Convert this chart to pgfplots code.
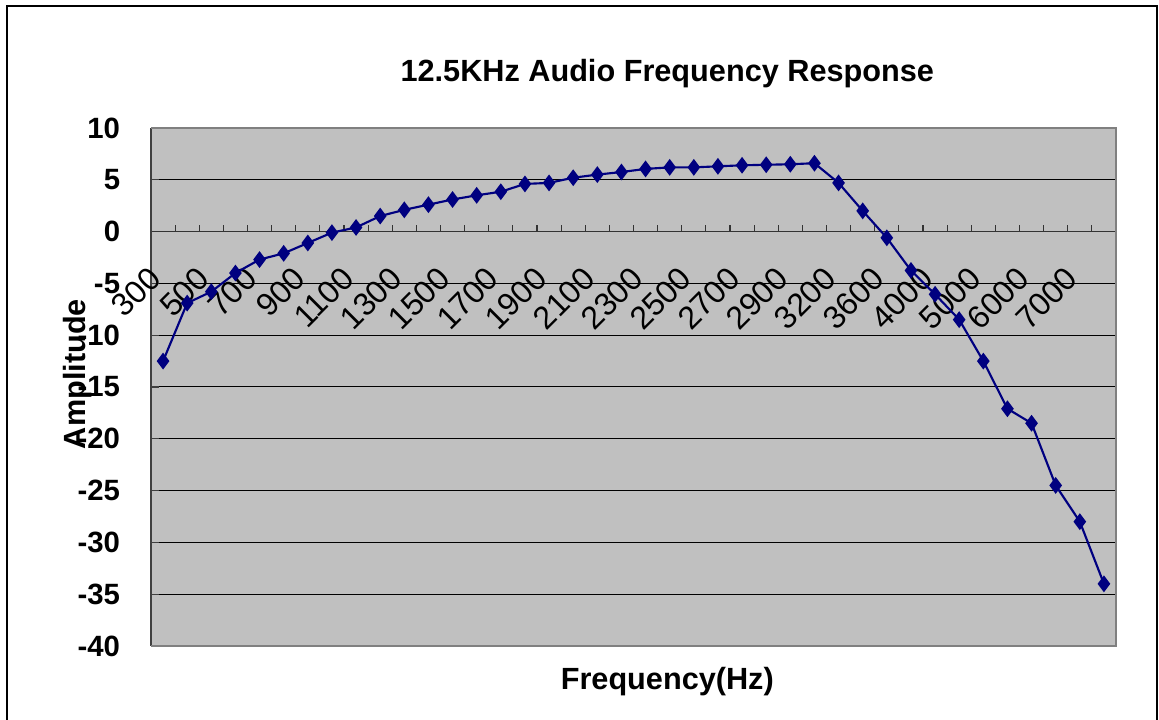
\documentclass[border=0pt]{standalone}
\usepackage{pgfplots}
\pgfplotsset{compat=1.18}
\usepackage{fontspec}
\setmainfont{Liberation Sans}
\definecolor{plotbg}{HTML}{C0C0C0}
\definecolor{navy}{HTML}{000080}
\definecolor{bordergray}{HTML}{808080}
\begin{document}
\begin{tikzpicture}
\path[use as bounding box] (0,0) rectangle (869.25pt,540pt);
\draw[line width=0.9pt] (5.25pt,-2pt) -- (5.25pt,535.5pt) -- (867.75pt,535.5pt) -- (867.75pt,-2pt);
\begin{axis}[
  at={(113.25pt,55.5pt)}, anchor=south west,
  width=723.75pt, height=388.5pt, scale only axis,
  xmin=-0.5, xmax=39.5, ymin=-40, ymax=10,
  axis x line=middle, axis y line=left,
  x axis line style={-, draw=black!80, line width=0.9pt},
  y axis line style={-, draw=black!75, line width=0.9pt},
  axis background/.style={fill=plotbg},
  xtick={0,2,...,38},
  xticklabels={300,500,700,900,1100,1300,1500,1700,1900,2100,2300,2500,2700,2900,3200,3600,4000,5000,6000,7000},
  major x tick style={draw=none},
  minor xtick={0.5,1.5,...,39.5},
  minor x tick style={draw=black!80, line width=0.8pt},
  minor tick length=5pt,
  xtick align=inside,
  ytick={-40,-35,...,10},
  ytick align=inside,
  major tick length=6pt,
  y tick style={draw=black!75, line width=0.8pt},
  ymajorgrids, major grid style={black, line width=0.75pt},
  /pgf/number format/assume math mode=true,
  x tick label style={font=\fontsize{24}{24}\selectfont, inner sep=0pt, anchor=east, xshift=-6pt, yshift=-31pt, rotate=45},
  y tick label style={font=\fontsize{22}{22}\selectfont\bfseries, inner sep=0pt, xshift=-23pt},
  title={12.5KHz Audio Frequency Response},
  title style={font=\fontsize{23}{23}\selectfont\bfseries, at={(axis description cs:0.535,1.089)}, anchor=center},
  xlabel={Frequency(Hz)},
  xlabel style={font=\fontsize{23}{23}\selectfont\bfseries, at={(axis description cs:0.535,-0.068)}, anchor=center},
  ylabel={Amplitude},
  ylabel style={font=\fontsize{23}{23}\selectfont\bfseries, at={(axis description cs:-0.0765,0.525)}, anchor=center, rotate=0},
  clip=false,
]
\draw[bordergray, line width=1.5pt] (rel axis cs:0,0) -- (rel axis cs:1,0) -- (rel axis cs:1,1) -- (rel axis cs:0,1);
\addplot[navy, line width=1.6pt, mark=diamond*, mark size=5pt, mark options={fill=navy, draw=navy}] table {
x y
0 -12.5
1 -6.9
2 -5.8
3 -4.0
4 -2.7
5 -2.1
6 -1.1
7 -0.1
8 0.4
9 1.5
10 2.1
11 2.6
12 3.1
13 3.5
14 3.85
15 4.6
16 4.7
17 5.2
18 5.5
19 5.75
20 6.05
21 6.2
22 6.2
23 6.3
24 6.4
25 6.45
26 6.5
27 6.6
28 4.7
29 2.0
30 -0.6
31 -3.75
32 -6.05
33 -8.5
34 -12.5
35 -17.1
36 -18.5
37 -24.5
38 -28.0
39 -34.0
};
\end{axis}
\end{tikzpicture}
\end{document}
